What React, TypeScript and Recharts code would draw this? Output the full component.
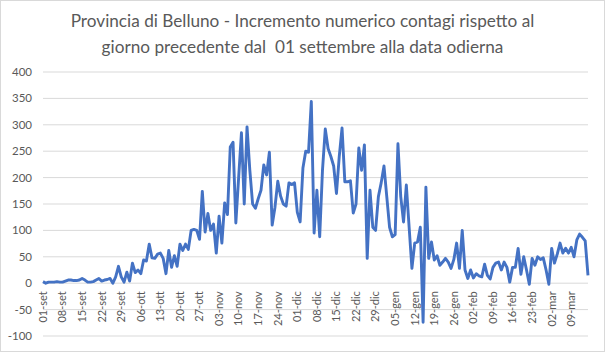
import React from "react";
import { LineChart, Line, XAxis, YAxis, CartesianGrid } from "recharts";

// incremento giornaliero, un array per mese (01-set .. 15-mar)
const MONTHS = ["set", "ott", "nov", "dic", "gen", "feb", "mar"];

const SET = [3, 0, 2, 2, 2, 3, 2, 2, 4, 6, 6, 5, 5, 6, 9, 6, 2, 2, 3, 6, 9, 4, 6, 7, 9, 0, 12, 32, 12, 2];
const OTT = [21, 4, 38, 20, 25, 18, 44, 42, 74, 48, 47, 55, 57, 47, 18, 62, 30, 52, 32, 74, 62, 74, 64, 100, 102, 100, 83, 174, 97, 132, 100];
const NOV = [112, 57, 127, 76, 152, 130, 258, 267, 114, 200, 285, 150, 296, 214, 150, 142, 160, 176, 224, 205, 248, 110, 144, 193, 165, 150, 146, 190, 187, 190];
const DIC = [134, 116, 218, 250, 248, 344, 95, 176, 88, 214, 292, 255, 240, 222, 170, 240, 294, 192, 192, 194, 133, 150, 256, 214, 262, 47, 176, 106, 100, 164, 190];
const GEN = [222, 164, 106, 88, 92, 264, 164, 116, 186, 106, 28, 76, 78, 106, -74, 182, 47, 78, 44, 52, 34, 40, 47, 40, 28, 45, 76, 28, 100, 25, 9];
const FEB = [25, 10, 18, 14, 12, 36, 15, 8, 30, 38, 40, 25, 40, 30, 2, 30, 30, 66, 17, 50, 25, -2, 47, 34, 50, 45, 48, 25];
const MAR = [-2, 66, 38, 55, 76, 57, 66, 57, 68, 50, 82, 93, 87, 80, 15];

const Y_TICKS = [-100, -50, 0, 50, 100, 150, 200, 250, 300, 350, 400];

const data = [SET, OTT, NOV, DIC, GEN, FEB, MAR].flatMap((arr, m) =>
  arr.map((v, i) => ({ giorno: `${String(i + 1).padStart(2, "0")}-${MONTHS[m]}`, valore: v }))
);

const W = 603;
const H = 350;
const TOP = 71;
const PLOT_H = 264;
const ZERO_SHIFT = (PLOT_H * 100) / 500;
const GRAY = "#595959";

function DayTick(props: any) {
  const { x, y, payload } = props;
  const y0 = y - ZERO_SHIFT + 8;
  return (
    <text
      x={x}
      y={y0}
      transform={`rotate(-90 ${x} ${y0})`}
      textAnchor="end"
      dy="0.35em"
      fontSize={11}
      fontFamily="Lato"
      fill={GRAY}
    >
      {payload.value}
    </text>
  );
}

export default function App() {
  return (
    <div
      style={{
        position: "absolute",
        left: 0,
        top: 0,
        width: 605,
        height: 352,
        boxSizing: "border-box",
        border: "1px solid #d9d9d9",
        background: "#fff",
        fontFamily: "Lato",
      }}
    >
      <div
        style={{
          position: "absolute",
          top: 7,
          left: 0,
          width: W,
          textAlign: "center",
          color: GRAY,
          fontSize: 17.2,
          lineHeight: "26px",
          whiteSpace: "pre",
        }}
      >
        {"Provincia di Belluno - Incremento numerico contagi rispetto al\ngiorno precedente dal  01 settembre alla data odierna"}
      </div>
      <LineChart width={W} height={H} data={data} margin={{ top: TOP, right: 16, bottom: 0, left: 0 }}>
        <CartesianGrid vertical={false} stroke="#d9d9d9" />
        <XAxis
          dataKey="giorno"
          interval={6}
          height={H - TOP - PLOT_H}
          axisLine={false}
          tickLine={false}
          tickSize={0}
          tickMargin={0}
          tick={(p: any) => <DayTick {...p} />}
        />
        <YAxis
          domain={[-100, 400]}
          ticks={Y_TICKS}
          interval={0}
          width={42}
          axisLine={false}
          tickLine={false}
          tickMargin={5}
          tick={{ fill: GRAY, fontSize: 11.5, fontFamily: "Lato" }}
        />
        <Line
          type="linear"
          dataKey="valore"
          stroke="#4472C4"
          strokeWidth={2.9}
          strokeLinejoin="round"
          dot={false}
          isAnimationActive={false}
        />
      </LineChart>
    </div>
  );
}
